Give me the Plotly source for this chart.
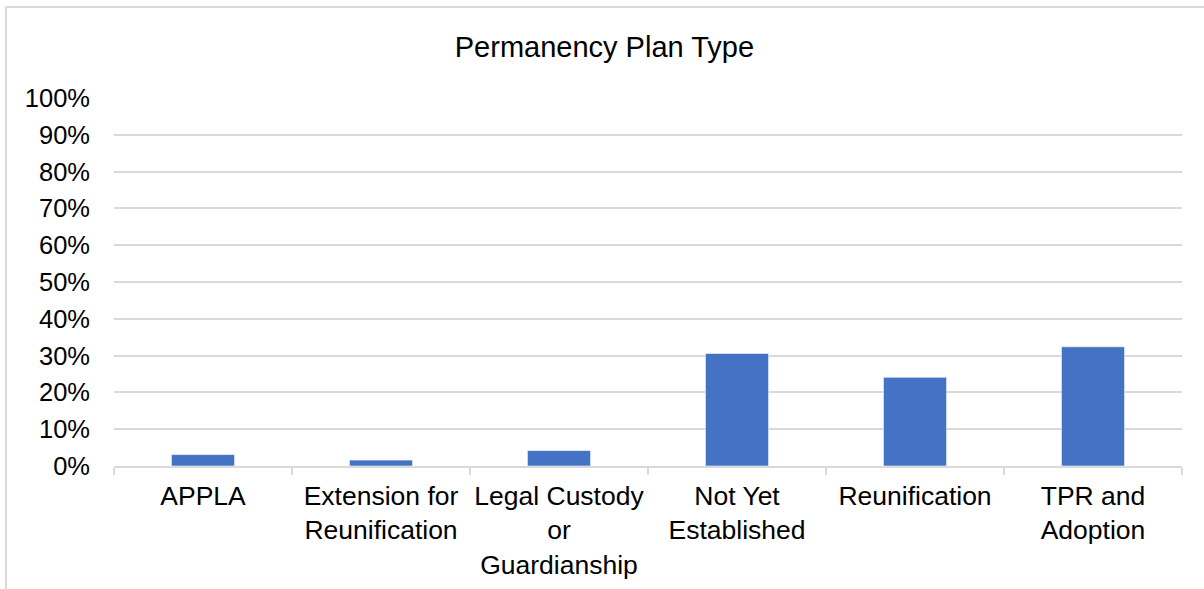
""" Bar chart of permanency plan types """
import plotly.graph_objects as go

# data
categories = [
    "APPLA",
    "Extension for<br>Reunification",
    "Legal Custody<br>or<br>Guardianship",
    "Not Yet<br>Established",
    "Reunification",
    "TPR and<br>Adoption",
]
shares = [0.031, 0.016, 0.042, 0.306, 0.241, 0.324]
y_ticks = [i / 10 for i in range(11)]

FONT = "Liberation Sans, Arial, sans-serif"
GRID = "#d9d9d9"

fig = go.Figure(go.Bar(
    x=categories,
    y=shares,
    marker_color="#4472c4",
    marker_line_color="#ffffff",
    marker_line_width=0.6,
))

fig.update_layout({
    'width': 1204,
    'height': 589,
    'margin': dict(l=114, r=22, t=98, b=123),
    'plot_bgcolor': 'white',
    'paper_bgcolor': 'white',
    'font': dict(family=FONT, size=25, color='black'),
    'bargap': 0.645,
    'showlegend': False,
    'title': dict(text='Permanency Plan Type', x=0.502, xref='container', xanchor='center',
                  y=0.921, yref='container', yanchor='middle',
                  font=dict(size=29, family=FONT, color='black')),
})

fig.update_yaxes(
    range=[0, 1.0],
    tickvals=y_ticks,
    tickformat='.0%',
    tickfont_size=25.5,
    showgrid=True,
    gridcolor=GRID,
    gridwidth=2,
    zeroline=False,
    showline=False,
    ticks='',
    ticklabelstandoff=23,
    automargin=False,
)

fig.update_xaxes(
    showline=True,
    linecolor=GRID,
    linewidth=2,
    ticks='outside',
    tickson='boundaries',
    tickcolor=GRID,
    tickwidth=2,
    ticklen=7,
    tickangle=0,
    tickfont_size=26.5,
    ticklabelstandoff=5,
    automargin=False,
)

# light chart frame (only left and top edges are visible in the picture)
fig.add_shape(type='rect', xref='paper', yref='paper',
              x0=-0.1011, x1=1.05, y0=-0.5, y1=1.2473,
              line=dict(color=GRID, width=2), layer='below')

# drop the default page margin so the figure sits at the window's corner
fig.write_html("out.html", config={'displayModeBar': False},
               post_script="document.body.style.margin='0';")
